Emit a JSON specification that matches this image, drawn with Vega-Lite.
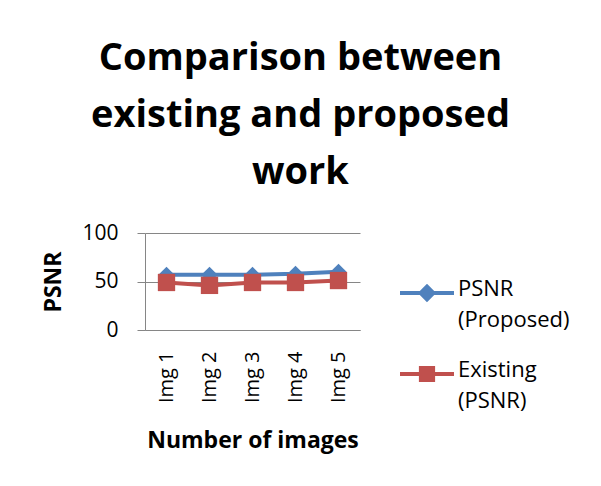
{
  "$schema": "https://vega.github.io/schema/vega-lite/v6.json",
  "autosize": "none",
  "width": 215,
  "height": 97,
  "padding": {"left": 145, "top": 233, "right": 241, "bottom": 156},
  "background": "white",
  "config": {
    "font": "Open Sans",
    "view": {"stroke": null}
  },
  "title": {
    "text": ["Comparison between", "existing and proposed", "work"],
    "font": "Open Sans",
    "fontSize": 38,
    "fontWeight": "bold",
    "lineHeight": 57,
    "color": "black",
    "anchor": "middle",
    "frame": "group",
    "dx": 48,
    "offset": 30
  },
  "data": {
    "values": [
      {"img": "Img 1", "series": "PSNR (Proposed)", "psnr": 57},
      {"img": "Img 2", "series": "PSNR (Proposed)", "psnr": 57},
      {"img": "Img 3", "series": "PSNR (Proposed)", "psnr": 57},
      {"img": "Img 4", "series": "PSNR (Proposed)", "psnr": 58},
      {"img": "Img 5", "series": "PSNR (Proposed)", "psnr": 60},
      {"img": "Img 1", "series": "Existing (PSNR)", "psnr": 49},
      {"img": "Img 2", "series": "Existing (PSNR)", "psnr": 46},
      {"img": "Img 3", "series": "Existing (PSNR)", "psnr": 49},
      {"img": "Img 4", "series": "Existing (PSNR)", "psnr": 49},
      {"img": "Img 5", "series": "Existing (PSNR)", "psnr": 51}
    ]
  },
  "encoding": {
    "x": {
      "field": "img",
      "type": "nominal",
      "sort": null,
      "title": "Number of images",
      "axis": {
        "labelAngle": -90,
        "labelFontSize": 20,
        "labelColor": "black",
        "labelPadding": 21,
        "ticks": false,
        "domainColor": "#868686",
        "titleFontSize": 23,
        "titleFontWeight": "bold",
        "titleColor": "black",
        "titlePadding": 27
      }
    },
    "y": {
      "field": "psnr",
      "type": "quantitative",
      "scale": {"domain": [0, 100]},
      "title": "PSNR",
      "axis": {
        "values": [0, 50, 100],
        "grid": true,
        "gridColor": "#868686",
        "domainColor": "#868686",
        "tickColor": "#868686",
        "tickSize": 8,
        "labelFontSize": 21,
        "labelColor": "black",
        "labelPadding": 19,
        "titleFontSize": 23,
        "titleFontWeight": "bold",
        "titleColor": "black",
        "titlePadding": 16
      }
    },
    "color": {
      "field": "series",
      "type": "nominal",
      "sort": ["PSNR (Proposed)", "Existing (PSNR)"],
      "scale": {"domain": ["PSNR (Proposed)", "Existing (PSNR)"], "range": ["#4F81BD", "#C0504D"]},
      "legend": {
        "title": null,
        "orient": "none",
        "legendX": 255,
        "legendY": 33,
        "symbolSize": 2916,
        "symbolOpacity": 1,
        "symbolStrokeWidth": 0,
        "labelFontSize": 22,
        "labelColor": "black",
        "labelLimit": 300,
        "labelOffset": 4,
        "labelBaseline": "top",
        "labelExpr": "datum.label == 'PSNR (Proposed)' ? ['PSNR', '(Proposed)'] : ['Existing', '(PSNR)']",
        "rowPadding": 16,
        "encode": {
          "symbols": {
            "update": {
              "shape": {"signal": "datum.value == 'PSNR (Proposed)' ? 'M-1,-0.07H1V0.07H-1Z M0,-0.34L0.34,0L0,0.34L-0.34,0Z' : 'M-1,-0.07H1V0.07H-1Z M-0.3,-0.3H0.3V0.3H-0.3Z'"},
              "fill": {"signal": "datum.value == 'PSNR (Proposed)' ? '#4F81BD' : '#C0504D'"},
              "strokeWidth": {"value": 0},
              "opacity": {"value": 1}
            }
          },
          "labels": {
            "update": {
              "lineHeight": {"value": 31},
              "dy": {"value": -14}
            }
          }
        }
      }
    }
  },
  "layer": [
    {"mark": {"type": "line", "strokeWidth": 4}},
    {
      "transform": [{"filter": "datum.series == 'PSNR (Proposed)'"}],
      "mark": {"type": "point", "filled": true, "opacity": 1, "shape": "diamond", "size": 260}
    },
    {
      "transform": [{"filter": "datum.series == 'Existing (PSNR)'"}],
      "mark": {"type": "point", "filled": true, "opacity": 1, "shape": "square", "size": 300}
    }
  ]
}
